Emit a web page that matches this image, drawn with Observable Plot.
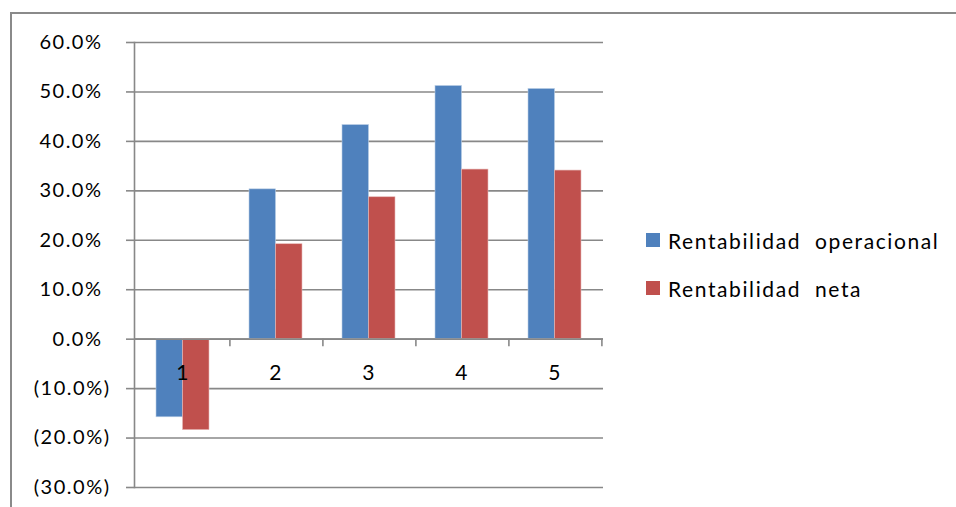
<!DOCTYPE html>
<html>
<head>
<meta charset="utf-8">
<script src="https://cdn.jsdelivr.net/npm/d3@7"></script>
<script src="https://cdn.jsdelivr.net/npm/@observablehq/plot@0.6"></script>
<style>
  html, body { margin: 0; padding: 0; background: #fff; }
  body { width: 956px; height: 507px; position: relative; overflow: hidden; font-family: Lato, "Open Sans", sans-serif; }
  #border { position: absolute; left: 10px; top: 12px; width: 960px; height: 520px; border-left: 2px solid #8a8a8a; border-top: 2px solid #8a8a8a; box-sizing: border-box; }
  #chart { position: absolute; left: 0; top: 0; }
  #legend { position: absolute; left: 646px; top: 0; font-size: 21px; letter-spacing: 1.6px; color: #000; }
  .item { position: absolute; left: 0; white-space: pre; display: flex; align-items: center; height: 24px; }
  .sw { width: 14px; height: 14px; margin-right: 8px; }
</style>
</head>
<body>
<div id="border"></div>
<div id="chart"></div>
<div id="legend"></div>
<script>
const categories = ["1", "2", "3", "4", "5"];
const operacional = [-0.158, 0.303, 0.433, 0.512, 0.506];
const neta = [-0.184, 0.192, 0.287, 0.343, 0.341];
const seriesNames = ["Rentabilidad  operacional", "Rentabilidad  neta"];
const seriesColors = ["#4F81BD", "#C0504D"];
const yTicks = [0.6, 0.5, 0.4, 0.3, 0.2, 0.1, 0, -0.1, -0.2, -0.3];
const yTickLabels = ["60.0%", "50.0%", "40.0%", "30.0%", "20.0%", "10.0%", "0.0%", "(10.0%)", "(20.0%)", "(30.0%)"];

const opData = categories.map((c, i) => ({cat: c, value: operacional[i]}));
const netaData = categories.map((c, i) => ({cat: c, value: neta[i]}));
const tickData = yTicks.map((v, i) => ({v, label: yTickLabels[i]}));
const posTicks = tickData.filter(d => d.v >= 0);
const negTicks = tickData.filter(d => d.v < 0);

const font = "Lato, 'Open Sans', sans-serif";
const gridColor = "#888888";

const chart = Plot.plot({
  width: 620,
  height: 507,
  marginLeft: 134,
  marginRight: 17,
  marginTop: 42,
  marginBottom: 20,
  style: {fontFamily: font, fontSize: "20px", background: "transparent", color: "#000"},
  x: {type: "band", domain: categories, paddingInner: 0.435, paddingOuter: 0.2175, axis: null},
  y: {domain: [-0.3, 0.6]},
  marks: [
    Plot.ruleY(yTicks, {stroke: gridColor, strokeWidth: 1.6}),
    Plot.frame({anchor: "left", stroke: gridColor, strokeWidth: 1.6}),
    Plot.axisY({ticks: yTicks, tickSize: 8, tickFormat: () => "", stroke: gridColor, strokeWidth: 1.6, strokeOpacity: 1}),
    Plot.barY(opData, {x: "cat", y: "value", fill: seriesColors[0], insetRight: 26.5, stroke: "#b9cde5", strokeWidth: 0.6}),
    Plot.barY(netaData, {x: "cat", y: "value", fill: seriesColors[1], insetLeft: 26.5, stroke: "#e6b9b8", strokeWidth: 0.6}),
    Plot.ruleX(categories, {x: d => d, y1: 0, y2: -0.0155, dx: 46.9, stroke: gridColor, strokeWidth: 1.6}),
    Plot.ruleY([0], {stroke: gridColor, strokeWidth: 1.6}),
    Plot.text(categories, {x: d => d, y: 0, text: d => d, dy: 34, fontSize: 21, fill: "#000"}),
    Plot.text(posTicks, {y: "v", text: "label", frameAnchor: "left", textAnchor: "end", dx: -32, fontSize: 20, fill: "#000"}),
    Plot.text(negTicks, {y: "v", text: "label", frameAnchor: "left", textAnchor: "end", dx: -24, fontSize: 20, fill: "#000"})
  ]
});
document.getElementById("chart").appendChild(chart);

d3.select(chart).selectAll("text").attr("letter-spacing", "1.5px");

const legend = document.getElementById("legend");
const legendY = [228, 276];
seriesNames.forEach((name, i) => {
  const item = document.createElement("div");
  item.className = "item";
  item.style.top = legendY[i] + "px";
  const sw = document.createElement("span");
  sw.className = "sw";
  sw.style.background = seriesColors[i];
  const t = document.createElement("span");
  t.textContent = name;
  item.appendChild(sw);
  item.appendChild(t);
  legend.appendChild(item);
});
</script>
</body>
</html>
